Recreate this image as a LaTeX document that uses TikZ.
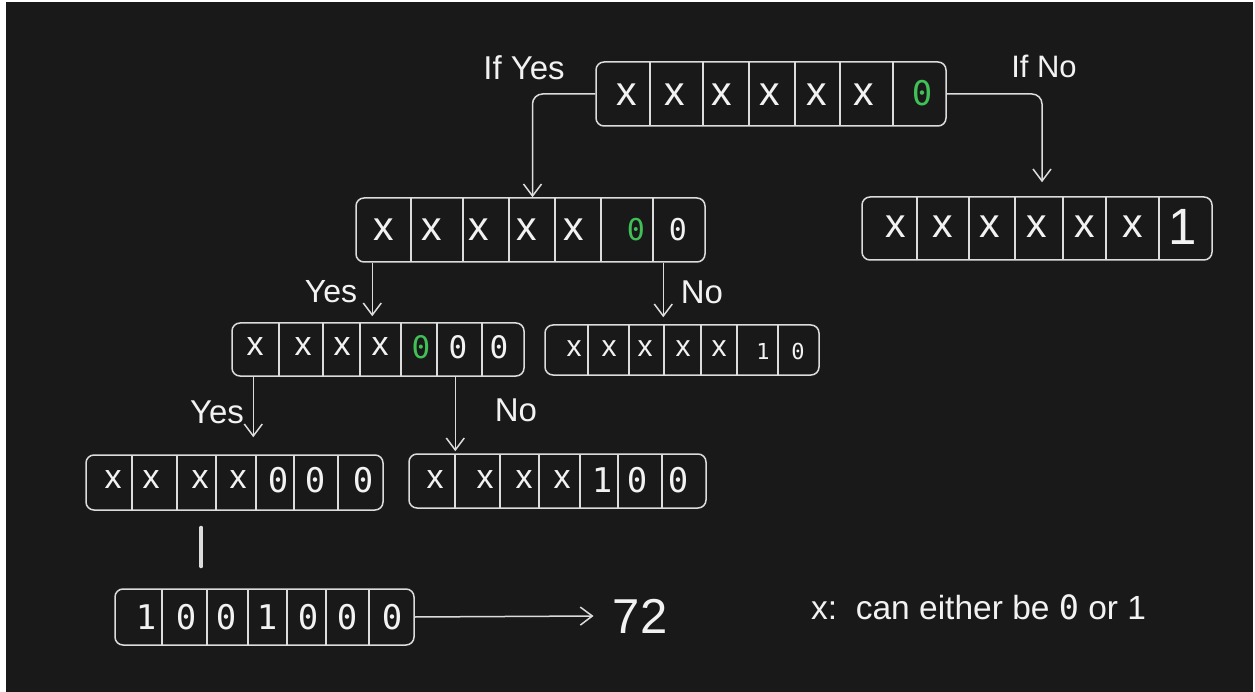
\documentclass[tikz,border=0pt]{standalone}
\usepackage{fontspec}
\setmainfont{Liberation Sans}
\newfontfamily\labfont{Liberation Sans}
\newfontfamily\monofont{DejaVu Sans Mono}
\usetikzlibrary{arrows.meta,calc}
\definecolor{bg}{RGB}{25,25,25}
\definecolor{fg}{RGB}{220,220,220}
\definecolor{tx}{RGB}{242,242,242}
\definecolor{gr}{RGB}{64,192,87}
\begin{document}
\begin{tikzpicture}[x=1pt,y=-1pt,
 box/.style={draw=fg,line width=1.5pt,rounded corners=8pt,inner sep=0pt},
 div/.style={draw=fg,line width=1.3pt},
 arr/.style={draw=fg,line width=1.5pt,-{Straight Barb[length=12pt,width=18pt]}},
 xt/.style={text=tx,inner sep=0pt,font=\labfont\fontsize{#1}{#1}\selectfont},
 dt/.style={text=tx,inner sep=0pt,font=\monofont\fontsize{#1}{#1}\selectfont},
 lab/.style={text=tx,inner sep=0pt,font=\labfont\fontsize{#1}{#1}\selectfont},
 tickline/.style={draw=fg,line width=4pt,line cap=round},
]
\useasboundingbox (0,0) rectangle (1255,692);
\fill[white] (0,0) rectangle (1255,692);
\fill[bg] (6,2) rectangle (1253,692);

% ---- box 1 (top)
\node[box,minimum width=350pt,minimum height=64pt] (b1) at (771,94) {};
\foreach \x in {650,703,749,795,840,893} \draw[div] (\x,62) -- (\x,126);
\foreach \x [count=\i] in {627,675,722,770,817,864} \node[xt=41] (b1x\i) at (\x,95) {x};
\node[dt=34,text=gr] (b1d1) at (922,93) {0};

% ---- box 2
\node[box,minimum width=349pt,minimum height=64pt] (b2) at (530.5,230) {};
\foreach \x in {411,463,509,555,601,653} \draw[div] (\x,198) -- (\x,262);
\foreach \x [count=\i] in {384,432,479,527,574} \node[xt=41] (b2x\i) at (\x,230) {x};
\node[dt=30,text=gr] (b2d1) at (636,230) {0};
\node[dt=30] (b2d2) at (678,230) {0};

% ---- box 3
\node[box,minimum width=350pt,minimum height=63pt] (b3) at (1037,228.5) {};
\foreach \x in {917,969,1015,1063,1106,1159} \draw[div] (\x,197) -- (\x,260);
\foreach \x [count=\i] in {896,943,990,1037,1085,1133} \node[xt=41] (b3x\i) at (\x,227) {x};
\node[xt=51] (b3d1) at (1183,227) {1};

% ---- box 4
\node[box,minimum width=292pt,minimum height=53pt] (b4) at (378,349.5) {};
\foreach \x in {279,323,360,401,437,482} \draw[div] (\x,323) -- (\x,376);
\foreach \x [count=\i] in {255,303,342,380} \node[xt=34] (b4x\i) at (\x,347) {x};
\node[dt=31,text=gr] (b4d1) at (421,347) {0};
\node[dt=31] (b4d2) at (458,347) {0};
\node[dt=31] (b4d3) at (499,347) {0};

% ---- box 5
\node[box,minimum width=274pt,minimum height=50pt] (b5) at (682,350) {};
\foreach \x in {588,629,664,701,737,778} \draw[div] (\x,325) -- (\x,375);
\foreach \x [count=\i] in {574,609,645,683,719} \node[xt=30] (b5x\i) at (\x,349) {x};
\node[dt=22] (b5d1) at (763,351) {1};
\node[dt=22] (b5d2) at (798,351) {0};

% ---- box 6
\node[box,minimum width=297pt,minimum height=55pt] (b6) at (234.5,482.5) {};
\foreach \x in {132,177,216,256,294,338} \draw[div] (\x,455) -- (\x,510);
\foreach \x [count=\i] in {113,151,200,238} \node[xt=34] (b6x\i) at (\x,480) {x};
\foreach \x [count=\i] in {278,315,363} \node[dt=34] (b6d\i) at (\x,480) {0};

% ---- box 7
\node[box,minimum width=297pt,minimum height=54pt] (b7) at (557.5,481) {};
\foreach \x in {455,500,539,580,618,662} \draw[div] (\x,454) -- (\x,508);
\foreach \x [count=\i] in {435,485,524,562} \node[xt=34] (b7x\i) at (\x,480) {x};
\node[dt=34] (b7d1) at (602,480) {1};
\node[dt=34] (b7d2) at (637,480) {0};
\node[dt=34] (b7d3) at (678,480) {0};

% ---- box 8
\node[box,minimum width=299pt,minimum height=56pt] (b8) at (264.5,617) {};
\foreach \x in {162,207,248,287,326,369} \draw[div] (\x,589) -- (\x,645);
\foreach \x/\t [count=\i] in {146/1,186/0,226/0,267/1,308/0,347/0,392/0} \node[dt=34] (b8d\i) at (\x,617) {\t};

% ---- result and legend
\node[lab=49] (n72) at (640,616) {72};
\node[lab=33.5,anchor=west] (leg) at (811,607) {x:\ \ can either be {\monofont 0} or 1};

% ---- labels
\node[lab=33] (ly1) at (524,68) {If Yes};
\node[lab=31] (ln1) at (1044,66) {If No};
\node[lab=32] (ly2) at (331,292) {Yes};
\node[lab=33] (ln2) at (702,292) {No};
\node[lab=33] (ly3) at (217,412) {Yes};
\node[lab=33] (ln3) at (516,410) {No};

% ---- connectors
\draw[arr,rounded corners=10pt] (b1.west) -| ([xshift=2pt]b2.north);
\draw[arr,rounded corners=10pt] (b1.east) -| ([xshift=5pt,yshift=14pt]b3.north);
\coordinate (s1) at ([xshift=17pt]b2.south west);
\coordinate (s2) at ([xshift=308pt]b2.south west);
\coordinate (s3) at ([xshift=22pt]b4.south west);
\coordinate (s4) at ([xshift=224pt]b4.south west);
\draw[arr,shorten >=6pt] (s1) -- (s1 |- b4.north);
\draw[arr,shorten >=7pt] (s2) -- (s2 |- b5.north);
\draw[arr,shorten >=17pt] (s3) -- (s3 |- b6.north);
\draw[arr,shorten >=2pt] (s4) -- (s4 |- b7.north);
\draw[tickline] ([xshift=116pt,yshift=-17pt]b6.south west) -- ([xshift=87pt,yshift=22pt]b8.north west);
\draw[arr] (b8.east) -- ([xshift=-19pt]n72.west);
\end{tikzpicture}
\end{document}
